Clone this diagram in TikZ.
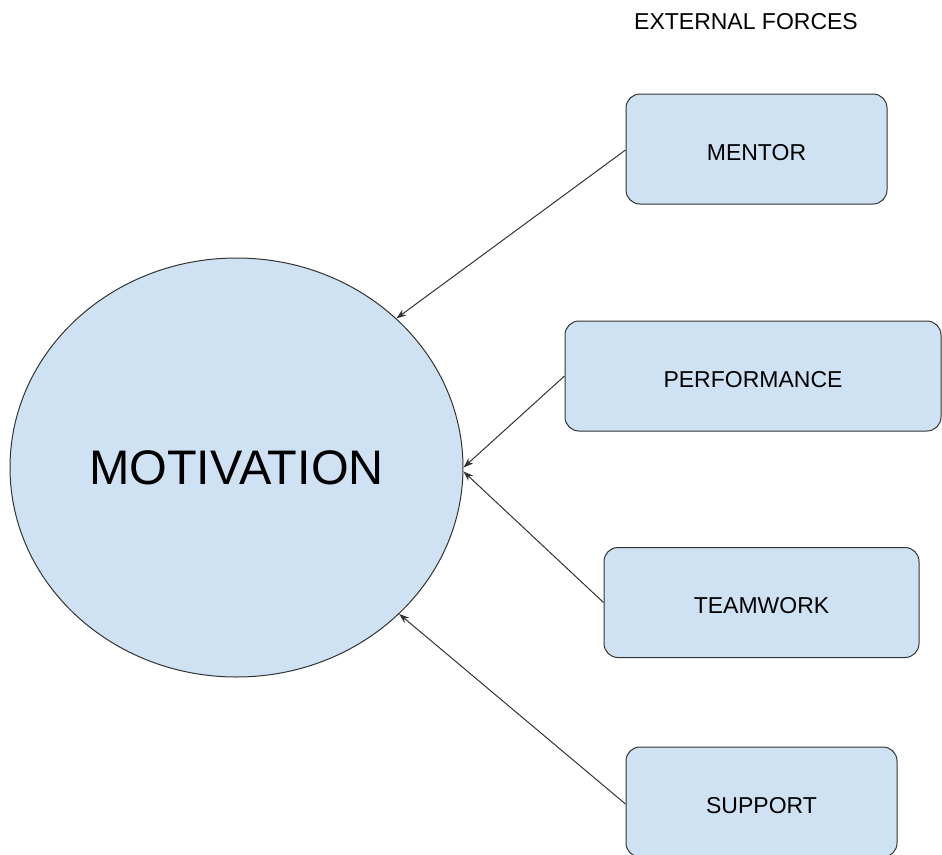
\documentclass[tikz,border=0pt]{standalone}
\usepackage{fontspec}
\setmainfont{Liberation Sans}
\usetikzlibrary{shapes.geometric,arrows.meta}
\definecolor{boxfill}{HTML}{CFE2F3}
\definecolor{edge}{HTML}{333333}
\tikzset{
  label text/.style={font=\fontsize{23}{27}\selectfont, text height=22.5pt, text depth=0pt},
  force/.style={draw=edge, line width=1pt, fill=boxfill, rounded corners=14pt,
    minimum width=#1, minimum height=110pt, inner sep=0pt, label text},
  link/.style={draw=edge, line width=1pt, -{Stealth[length=10pt,width=7pt]}},
}
\begin{document}
\begin{tikzpicture}[x=1pt,y=-1pt]
\useasboundingbox (0,0) rectangle (942,854);
\begin{scope}
\clip (0,0) rectangle (942,854);
\node[ellipse, draw=edge, line width=1pt, fill=boxfill, minimum width=453pt,
  minimum height=419pt, inner sep=0pt, font=\fontsize{48.5}{56}\selectfont]
  (mot) at (236.5,467.5) {MOTIVATION};
\node[force=261pt] (mentor) at (756.5,149) {MENTOR};
\node[force=376pt] (perf) at (753,376) {PERFORMANCE};
\node[force=315pt] (team) at (761.5,602.5) {TEAMWORK};
\node[force=271pt] (supp) at (761.5,802) {SUPPORT};
\end{scope}
\node[label text] (ext) at (746,18) {EXTERNAL FORCES};
\draw[link] ([yshift=-1pt]mentor.west) -- (mot.43);
\draw[link] (perf.west) -- (mot.0.6);
\draw[link] (team.west) -- (mot.-1.2);
\draw[link] ([yshift=-2pt]supp.west) -- (mot.-42.4);
\end{tikzpicture}
\end{document}
